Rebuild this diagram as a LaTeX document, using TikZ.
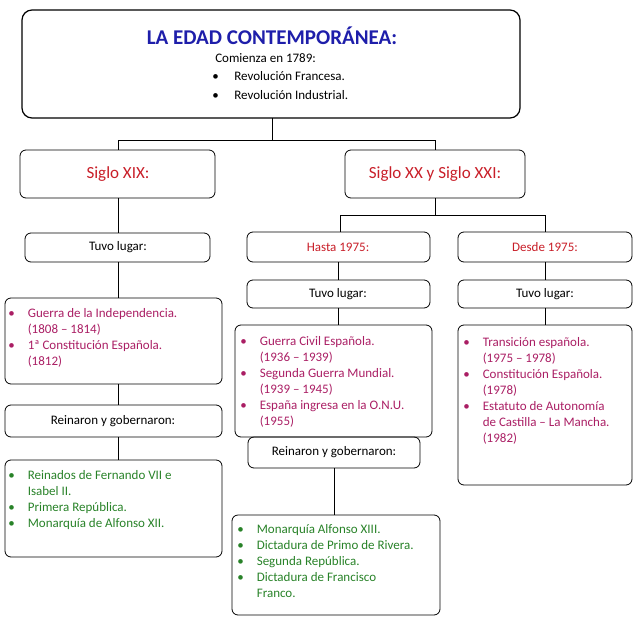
\documentclass[tikz,border=0pt]{standalone}
\usepackage{fontspec}
\setmainfont{Carlito}
\usetikzlibrary{positioning}
\definecolor{titleblue}{RGB}{30,30,170}
\definecolor{headred}{RGB}{200,30,40}
\definecolor{itempink}{RGB}{170,30,100}
\definecolor{itemgreen}{RGB}{40,130,40}
\newcommand{\bul}[1]{\makebox[1.5em][l]{\textcolor{#1}{\textbullet}}}
\newcommand{\ind}{\hspace*{1.5em}}
\begin{document}
\begin{tikzpicture}[x=1pt, y=-1pt, semithick,
    every node/.style={inner sep=0pt, font=\fontsize{13}{16}\selectfont},
    box/.style={draw, rounded corners=6pt, thick},
    hd/.style={text=headred, font=\fontsize{17}{20}\selectfont}
    ]
\useasboundingbox (0,0) rectangle (641,622);
% top box
\draw[box, very thick, rounded corners=10pt] (22,10) rectangle (520,118);
\node[text=titleblue, font=\bfseries\fontsize{21}{24}\selectfont] (title) at (272,36) {LA EDAD CONTEMPORÁNEA:};
\node[anchor=west, align=left] (start) at (215,58) {Comienza en 1789:};
\node[anchor=west, align=left] (rev) at (212,86) {\textbullet\hspace{1.2em}Revolución Francesa.\\[3pt]\textbullet\hspace{1.2em}Revolución Industrial.};
\coordinate (top) at (272,118);
% level 1
\draw[box] (20,150) rectangle (215,198);
\node[hd] (s19) at (118,174) {Siglo XIX:};
\draw[box] (345,150) rectangle (525,198);
\node[hd] (s20) at (435,174) {Siglo XX y Siglo XXI:};
\draw[thick] (top) -- (272,140) -| (118,150);
\draw[thick] (272,140) -| (435,150);
% left column
\draw[box] (25,233) rectangle (210,262);
\node (tl1) at (118,247) {Tuvo lugar:};
\draw[thick] (118,198) -- (118,233);
\draw[box] (5,298) rectangle (222,384);
\node[anchor=north west, align=left, text=itempink] (ev1) at (8,308)
  {\bul{itempink}Guerra de la Independencia.\\\ind(1808 -- 1814)\\\bul{itempink}1ª Constitución Española.\\\ind(1812)};
\draw[thick] (118,262) -- (118,298);
\draw[box] (5,405) rectangle (222,437);
\node (rg1) at (113,421) {Reinaron y gobernaron:};
\draw[thick] (118,384) -- (118,405);
\draw[box] (5,460) rectangle (222,557);
\node[anchor=north west, align=left, text=itemgreen] (gv1) at (8,470)
  {\bul{itemgreen}Reinados de Fernando VII e\\\ind Isabel II.\\\bul{itemgreen}Primera República.\\\bul{itemgreen}Monarquía de Alfonso XII.};
\draw[thick] (118,437) -- (118,460);
% right part
\draw[thick] (435,198) -- (435,215);
\draw[thick] (340,215) -- (545,215);
\draw[thick] (340,215) -- (340,232);
\draw[thick] (545,215) -- (545,232);
\draw[box] (247,232) rectangle (430,262);
\node[text=headred] (h75) at (338,247) {Hasta 1975:};
\draw[box] (458,232) rectangle (632,262);
\node[text=headred] (d75) at (545,247) {Desde 1975:};
% middle column
\draw[box] (247,280) rectangle (430,308);
\node (tl2) at (338,294) {Tuvo lugar:};
\draw[thick] (338,262) -- (338,280);
\draw[box] (235,325) rectangle (432,437);
\node[anchor=north west, align=left, text=itempink] (ev2) at (240,336)
  {\bul{itempink}Guerra Civil Española.\\\ind(1936 -- 1939)\\\bul{itempink}Segunda Guerra Mundial.\\\ind(1939 -- 1945)\\\bul{itempink}España ingresa en la O.N.U.\\\ind(1955)};
\draw[thick] (338,308) -- (338,325);
\draw[box] (248,437) rectangle (420,468);
\node (rg2) at (334,452) {Reinaron y gobernaron:};
\draw[box] (232,515) rectangle (440,615);
\node[anchor=north west, align=left, text=itemgreen] (gv2) at (237,524)
  {\bul{itemgreen}Monarquía Alfonso XIII.\\\bul{itemgreen}Dictadura de Primo de Rivera.\\\bul{itemgreen}Segunda República.\\\bul{itemgreen}Dictadura de Francisco\\\ind Franco.};
\draw[thick] (334,468) -- (334,515);
% right column
\draw[box] (458,280) rectangle (632,308);
\node (tl3) at (545,294) {Tuvo lugar:};
\draw[thick] (545,262) -- (545,280);
\draw[box] (458,325) rectangle (632,485);
\node[anchor=north west, align=left, text=itempink] (ev3) at (463,337)
  {\bul{itempink}Transición española.\\\ind(1975 -- 1978)\\\bul{itempink}Constitución Española.\\\ind(1978)\\\bul{itempink}Estatuto de Autonomía\\\ind de Castilla -- La Mancha.\\\ind(1982)};
\draw[thick] (545,308) -- (545,325);
\end{tikzpicture}
\end{document}
